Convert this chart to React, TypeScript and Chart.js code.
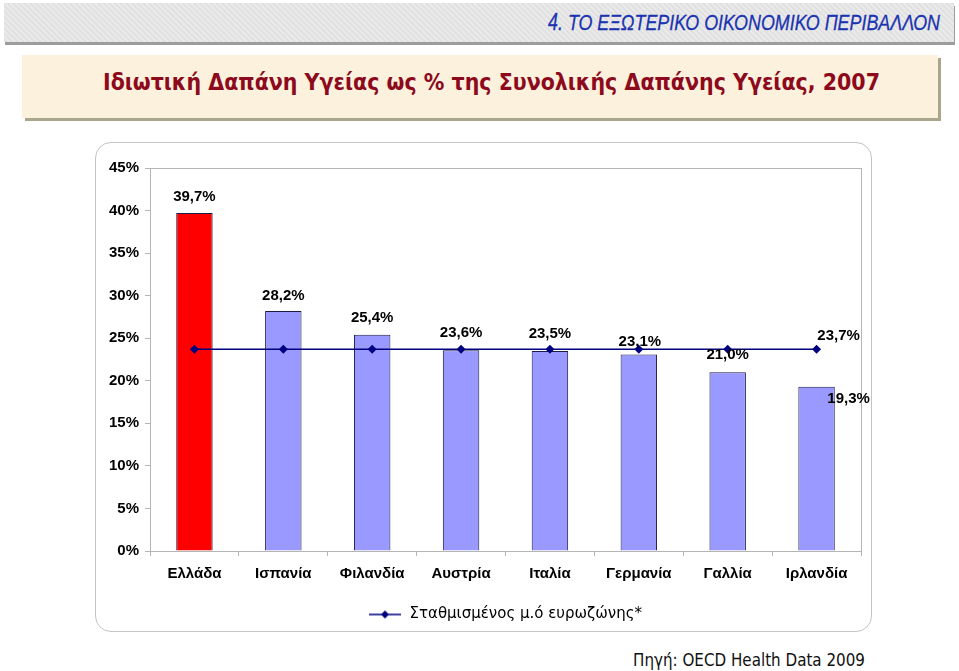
import React, { useEffect, useLayoutEffect, useRef } from 'react';
import { Chart, registerables } from 'chart.js';

Chart.register(...registerables);

// ---- data ----
const categories = ['Ελλάδα', 'Ισπανία', 'Φιλανδία', 'Αυστρία', 'Ιταλία', 'Γερμανία', 'Γαλλία', 'Ιρλανδία'];
const privateShare = [39.7, 28.2, 25.4, 23.6, 23.5, 23.1, 21.0, 19.3];
const eurozoneAverage = [23.7, 23.7, 23.7, 23.7, 23.7, 23.7, 23.7, 23.7];
const averageLabel = 'Σταθμισμένος μ.ό ευρωζώνης*';
const yMin = 0;
const yMax = 45;
const yStep = 5;
const headerText = '4.  ΤΟ ΕΞΩΤΕΡΙΚΟ ΟΙΚΟΝΟΜΙΚΟ ΠΕΡΙΒΑΛΛΟΝ';
const titleText = 'Ιδιωτική Δαπάνη Υγείας ως % της Συνολικής Δαπάνης Υγείας, 2007';
const sourceText = 'Πηγή: OECD Health Data 2009';

// ---- styles ----
const barColors = ['#FF0000', '#9999FF', '#9999FF', '#9999FF', '#9999FF', '#9999FF', '#9999FF', '#9999FF'];
const labelDx = [0, 0, 0, 0, 0, 1, 0, 32];
const labelDy = [-16, -15, -17, -17, -17, -13, -17, 12];
const lineColor = '#000080';
const tickFont = { family: '"Liberation Sans", Arial, sans-serif', size: 15, weight: 'bold' as const };

const fmt = (v: number) => v.toFixed(1).replace('.', ',') + '%';

function makeLegendMarker(): HTMLCanvasElement {
  const c = document.createElement('canvas');
  c.width = 32;
  c.height = 10;
  const ctx = c.getContext('2d')!;
  ctx.strokeStyle = lineColor;
  ctx.lineWidth = 1.5;
  ctx.beginPath();
  ctx.moveTo(0, 5);
  ctx.lineTo(32, 5);
  ctx.stroke();
  ctx.fillStyle = lineColor;
  ctx.beginPath();
  ctx.moveTo(16, 1);
  ctx.lineTo(20, 5);
  ctx.lineTo(16, 9);
  ctx.lineTo(12, 5);
  ctx.closePath();
  ctx.fill();
  return c;
}

const framePlugin = {
  id: 'frame',
  afterLayout(chart: any) {
    if (chart.legend) {
      chart.legend.left += 27;
      chart.legend.right += 27;
    }
  },
  beforeDatasetsDraw(chart: any) {
    const { ctx, chartArea: a } = chart;
    ctx.save();
    ctx.strokeStyle = '#b5b5b5';
    ctx.lineWidth = 1;
    ctx.strokeRect(Math.round(a.left) + 0.5, Math.round(a.top) + 0.5, a.right - a.left, a.bottom - a.top);
    ctx.restore();
  },
  afterDatasetsDraw(chart: any) {
    const { ctx } = chart;
    ctx.save();
    ctx.font = 'bold 15px "Liberation Sans", Arial, sans-serif';
    ctx.fillStyle = '#000';
    ctx.textAlign = 'center';
    ctx.textBaseline = 'middle';
    const barMeta = chart.getDatasetMeta(1);
    barMeta.data.forEach((el: any, i: number) => {
      ctx.fillText(fmt(privateShare[i]), el.x + labelDx[i], el.y + labelDy[i]);
    });
    const lineMeta = chart.getDatasetMeta(0);
    const last = lineMeta.data.length - 1;
    const p = lineMeta.data[last];
    ctx.fillText(fmt(eurozoneAverage[last]), p.x + 22, p.y - 13);
    ctx.restore();
  },
};

function FitText(props: { text: string; left: number; top: number; width: number; height: number; style: React.CSSProperties }) {
  const ref = useRef<HTMLSpanElement>(null);
  useLayoutEffect(() => {
    const el = ref.current!;
    el.style.transform = 'none';
    const w = el.getBoundingClientRect().width;
    if (w > 0) el.style.transform = `scaleX(${props.width / w})`;
  }, [props.text, props.width]);
  return (
    <span ref={ref} style={{
      position: 'absolute', left: props.left, top: props.top, height: props.height,
      lineHeight: props.height + 'px', whiteSpace: 'nowrap', transformOrigin: '0 50%',
      display: 'inline-block', ...props.style,
    }}>{props.text}</span>
  );
}

export default function App() {
  const ref = useRef<HTMLCanvasElement>(null);

  useEffect(() => {
    const marker = makeLegendMarker();
    const chart = new Chart(ref.current!, {
      type: 'bar',
      data: {
        labels: categories,
        datasets: [
          {
            type: 'line',
            label: averageLabel,
            data: eurozoneAverage,
            borderColor: lineColor,
            borderWidth: 1.5,
            backgroundColor: lineColor,
            pointStyle: 'rectRot',
            pointRadius: 4.5,
            pointBackgroundColor: lineColor,
            pointBorderColor: lineColor,
            pointBorderWidth: 0,
            fill: false,
            tension: 0,
            order: 0,
          } as any,
          {
            type: 'bar',
            label: 'bars',
            data: privateShare,
            backgroundColor: barColors,
            borderColor: '#1c1c48',
            borderWidth: 1,
            categoryPercentage: 1,
            barPercentage: 0.41,
            order: 1,
          } as any,
        ],
      },
      options: {
        responsive: false,
        animation: false,
        devicePixelRatio: 1,
        layout: { padding: { top: 25, right: 11, bottom: 1, left: 0 } },
        scales: {
          x: {
            afterFit: (s: any) => { s.height = 46; },
            grid: { display: true, drawOnChartArea: false, drawTicks: true, tickLength: 5, color: '#b5b5b5', offset: true },
            border: { display: true, color: '#b5b5b5' },
            ticks: { color: '#000', font: tickFont, padding: 9, maxRotation: 0, autoSkip: false },
          },
          y: {
            min: yMin,
            max: yMax,
            afterFit: (s: any) => { s.width = 55; },
            grid: { display: true, drawOnChartArea: false, drawTicks: true, tickLength: 5, color: '#b5b5b5' },
            border: { display: true, color: '#b5b5b5' },
            ticks: { stepSize: yStep, color: '#000', font: tickFont, padding: 6, callback: (v: any) => v + '%' },
          },
        },
        plugins: {
          legend: {
            display: true,
            position: 'bottom',
            labels: {
              usePointStyle: true,
              pointStyleWidth: 34,
              generateLabels: () => [{
                text: averageLabel,
                datasetIndex: 0,
                pointStyle: marker,
                fillStyle: lineColor,
                strokeStyle: lineColor,
                lineWidth: 0,
                hidden: false,
                fontColor: '#000',
              }],
              color: '#000',
              padding: 10,
              font: { family: '"DejaVu Sans", sans-serif', size: 15 },
            },
          },
          tooltip: { enabled: false },
        },
      },
      plugins: [framePlugin],
    });
    return () => chart.destroy();
  }, []);

  return (
    <div style={{ position: 'fixed', left: 0, top: 0, width: 959, height: 671, background: '#fff', overflow: 'hidden' }}>
      <div style={{
        position: 'absolute', left: 4, top: 3, width: 950, height: 39,
        background: 'repeating-linear-gradient(45deg, #ebebeb 0px, #dedede 2px, #eeeeee 4px)',
        boxShadow: '1px 3px 0 #9c9c9c',
      }} />
      <FitText text={headerText} left={548} top={8} width={392} height={28} style={{
        fontFamily: '"Liberation Sans", Arial, sans-serif', fontStyle: 'italic', fontSize: 23,
        fontWeight: 500, color: '#1a33b0', WebkitTextStroke: '0.3px #1a33b0',
      }} />

      <div style={{
        position: 'absolute', left: 22, top: 55, width: 916, height: 63,
        background: '#fcf1dc',
        boxShadow: '3px 3px 0 #a9a68c',
      }} />
      <FitText text={titleText} left={103} top={65} width={777} height={34} style={{
        fontFamily: '"DejaVu Sans", sans-serif', fontWeight: 'bold', fontSize: 23, color: '#8c0a1c',
      }} />

      <div style={{
        position: 'absolute', left: 95, top: 142, width: 777, height: 490, boxSizing: 'border-box',
        border: '1.5px solid #c4c4c4', borderRadius: 16,
      }} />
      <canvas ref={ref} width={777} height={490}
        style={{ position: 'absolute', left: 95, top: 143, width: 777, height: 490 }} />

      <FitText text={sourceText} left={633} top={649} width={232} height={22} style={{
        fontFamily: '"DejaVu Sans", sans-serif', fontSize: 17, color: '#111',
      }} />
    </div>
  );
}
